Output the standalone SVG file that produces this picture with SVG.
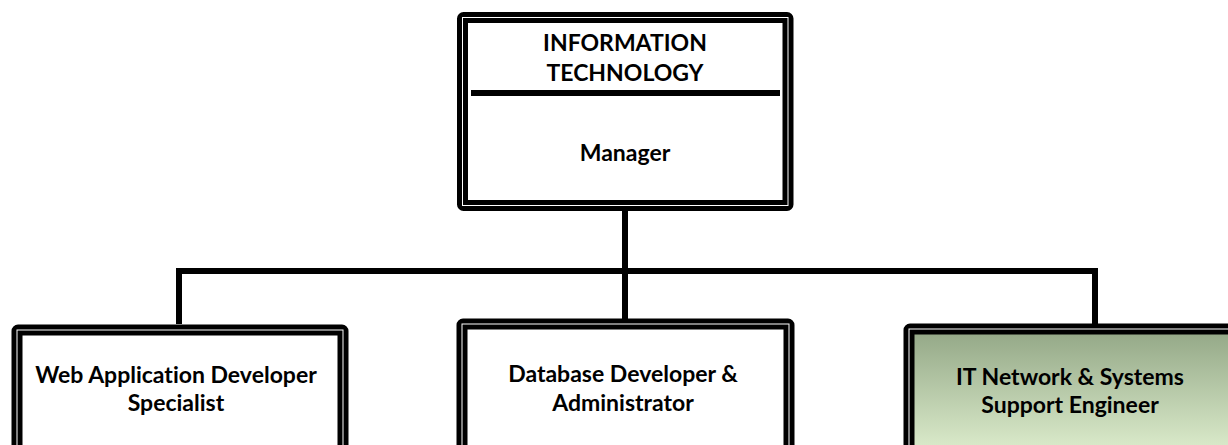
<svg xmlns="http://www.w3.org/2000/svg" width="1228" height="445" viewBox="0 0 1228 445">
<defs>
<linearGradient id="green" gradientUnits="userSpaceOnUse" x1="0" y1="335" x2="0" y2="445">
<stop offset="0" stop-color="#96aa89"/>
<stop offset="1" stop-color="#d8e8c8"/>
</linearGradient>
<style>
.box{fill:#fff;stroke:#000;stroke-width:11}
.gap{fill:none;stroke:#fff;stroke-width:1}
.conn{fill:none;stroke:#000;stroke-width:6}
text{font-family:Lato,"Liberation Sans",sans-serif;font-weight:bold;font-size:23px;fill:#000;text-anchor:middle;font-variant-ligatures:none;font-feature-settings:"liga" 0,"dlig" 0}
</style>
</defs>
<rect width="1228" height="445" fill="#fff"/>
<g id="connectors">
<line class="conn" x1="625" y1="208" x2="625" y2="271"/>
<path class="conn" d="M179,324 V271 H1095 V324"/>
<line class="conn" x1="625" y1="271" x2="625" y2="320"/>
</g>
<g id="it-manager">
<rect class="box" x="462.5" y="17.5" width="325.5" height="188" rx="1"/>
<rect class="gap" x="462.5" y="17.5" width="325.5" height="188"/>
<line x1="471" y1="93" x2="780" y2="93" stroke="#000" stroke-width="6"/>
<text x="625" y="51">INFORMATION</text>
<text x="625" y="81">TECHNOLOGY</text>
<text x="625" y="161">Manager</text>
</g>
<g id="web-dev">
<rect class="box" x="17" y="330" width="326" height="140" rx="1"/>
<rect class="gap" x="17" y="330" width="326" height="140"/>
<text x="176" y="383">Web Application Developer</text>
<text x="176" y="411">Specialist</text>
</g>
<g id="db-dev">
<rect class="box" x="462" y="324" width="327" height="140" rx="1"/>
<rect class="gap" x="462" y="324" width="327" height="140"/>
<text x="623" y="382">Database Developer &amp;</text>
<text x="623" y="411">Administrator</text>
</g>
<g id="it-network">
<rect x="909" y="329" width="335" height="140" rx="1" fill="url(#green)" stroke="#000" stroke-width="11"/>
<rect class="gap" x="909" y="329" width="335" height="140"/>
<text x="1070" y="385">IT Network &amp; Systems</text>
<text x="1070" y="413">Support Engineer</text>
</g>
</svg>
